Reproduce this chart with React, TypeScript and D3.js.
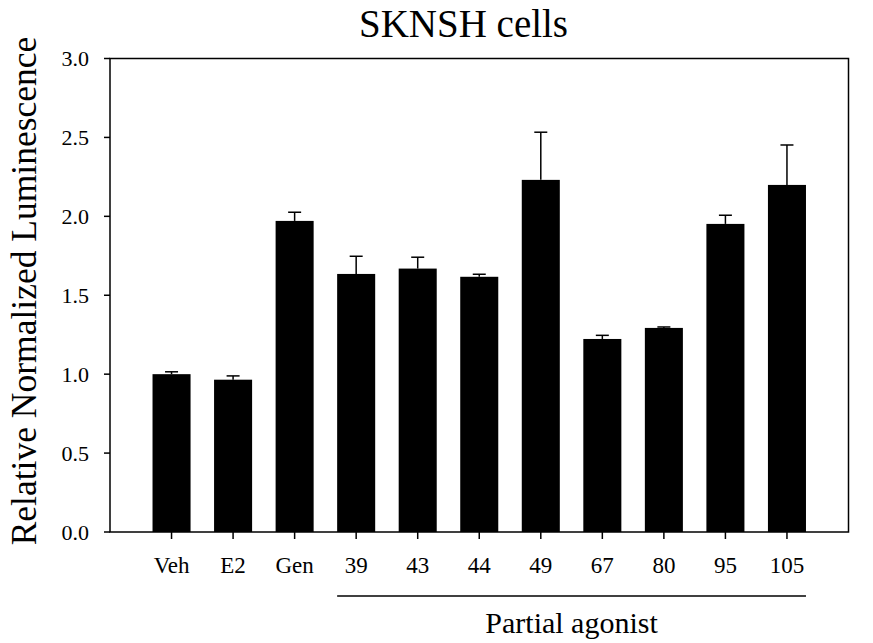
import React from "react";
import * as d3 from "d3";

const categories = ["Veh", "E2", "Gen", "39", "43", "44", "49", "67", "80", "95", "105"];
const means = [1.0, 0.965, 1.971, 1.635, 1.669, 1.617, 2.231, 1.223, 1.293, 1.952, 2.199];
const errors = [0.015, 0.024, 0.055, 0.112, 0.072, 0.016, 0.302, 0.023, 0.006, 0.055, 0.253];
const yTicks = [0, 0.5, 1.0, 1.5, 2.0, 2.5, 3.0];
const partialGroup = ["39", "105"];

const W = 873;
const H = 643;
const left = 110;
const right = 848.5;
const top = 58.5;
const bottom = 532;
const FONT = '"Times New Roman", "Liberation Serif", "DejaVu Serif", serif';

export default function App() {
  const x = d3.scaleLinear().domain([0, categories.length + 1]).range([left, right]);
  const y = d3.scaleLinear().domain([0, 3]).range([bottom, top]);
  const step = x(1) - x(0);
  const bw = step * 0.618;
  const capW = 13;
  const cx = (i: number) => x(i + 1);
  const gStart = categories.indexOf(partialGroup[0]);
  const gEnd = categories.indexOf(partialGroup[1]);
  const ts = (size: number) => ({ fontFamily: FONT, fontSize: size });

  return (
    <svg width={W} height={H} style={{ position: "absolute", left: 0, top: 0, background: "#fff" }}>
      <text x={463.5} y={37} textAnchor="middle" style={ts(39)}>SKNSH cells</text>
      <text transform={`translate(36, 291) rotate(-90)`} textAnchor="middle" style={ts(35.5)}>
        Relative Normalized Luminescence
      </text>
      {categories.map((c, i) => (
        <rect key={c} x={cx(i) - bw / 2} y={y(means[i])} width={bw} height={y(0) - y(means[i])} fill="#000" />
      ))}
      {categories.map((c, i) => (
        <g key={"e" + c} stroke="#000" strokeWidth={1.5}>
          <line x1={cx(i)} x2={cx(i)} y1={y(means[i])} y2={y(means[i] + errors[i])} />
          <line x1={cx(i) - capW / 2} x2={cx(i) + capW / 2} y1={y(means[i] + errors[i])} y2={y(means[i] + errors[i])} />
        </g>
      ))}
      <rect x={left} y={top} width={right - left} height={bottom - top} fill="none" stroke="#000" strokeWidth={1.5} />
      {yTicks.map((t) => (
        <g key={"y" + t}>
          <line x1={left - 6} x2={left} y1={y(t)} y2={y(t)} stroke="#000" strokeWidth={1.5} />
          <text x={89} y={y(t)} dy="0.35em" textAnchor="end" style={ts(22)}>{t.toFixed(1)}</text>
        </g>
      ))}
      {categories.map((c, i) => (
        <g key={"x" + c}>
          <line x1={cx(i)} x2={cx(i)} y1={bottom} y2={bottom + 7} stroke="#000" strokeWidth={1.5} />
          <text x={cx(i)} y={573} textAnchor="middle" style={ts(23)}>{c}</text>
        </g>
      ))}
      <line x1={cx(gStart) - bw / 2} x2={cx(gEnd) + bw / 2} y1={596} y2={596} stroke="#000" strokeWidth={1.3} />
      <text x={(cx(gStart) + cx(gEnd)) / 2} y={633} textAnchor="middle" style={ts(30)}>Partial agonist</text>
    </svg>
  );
}
